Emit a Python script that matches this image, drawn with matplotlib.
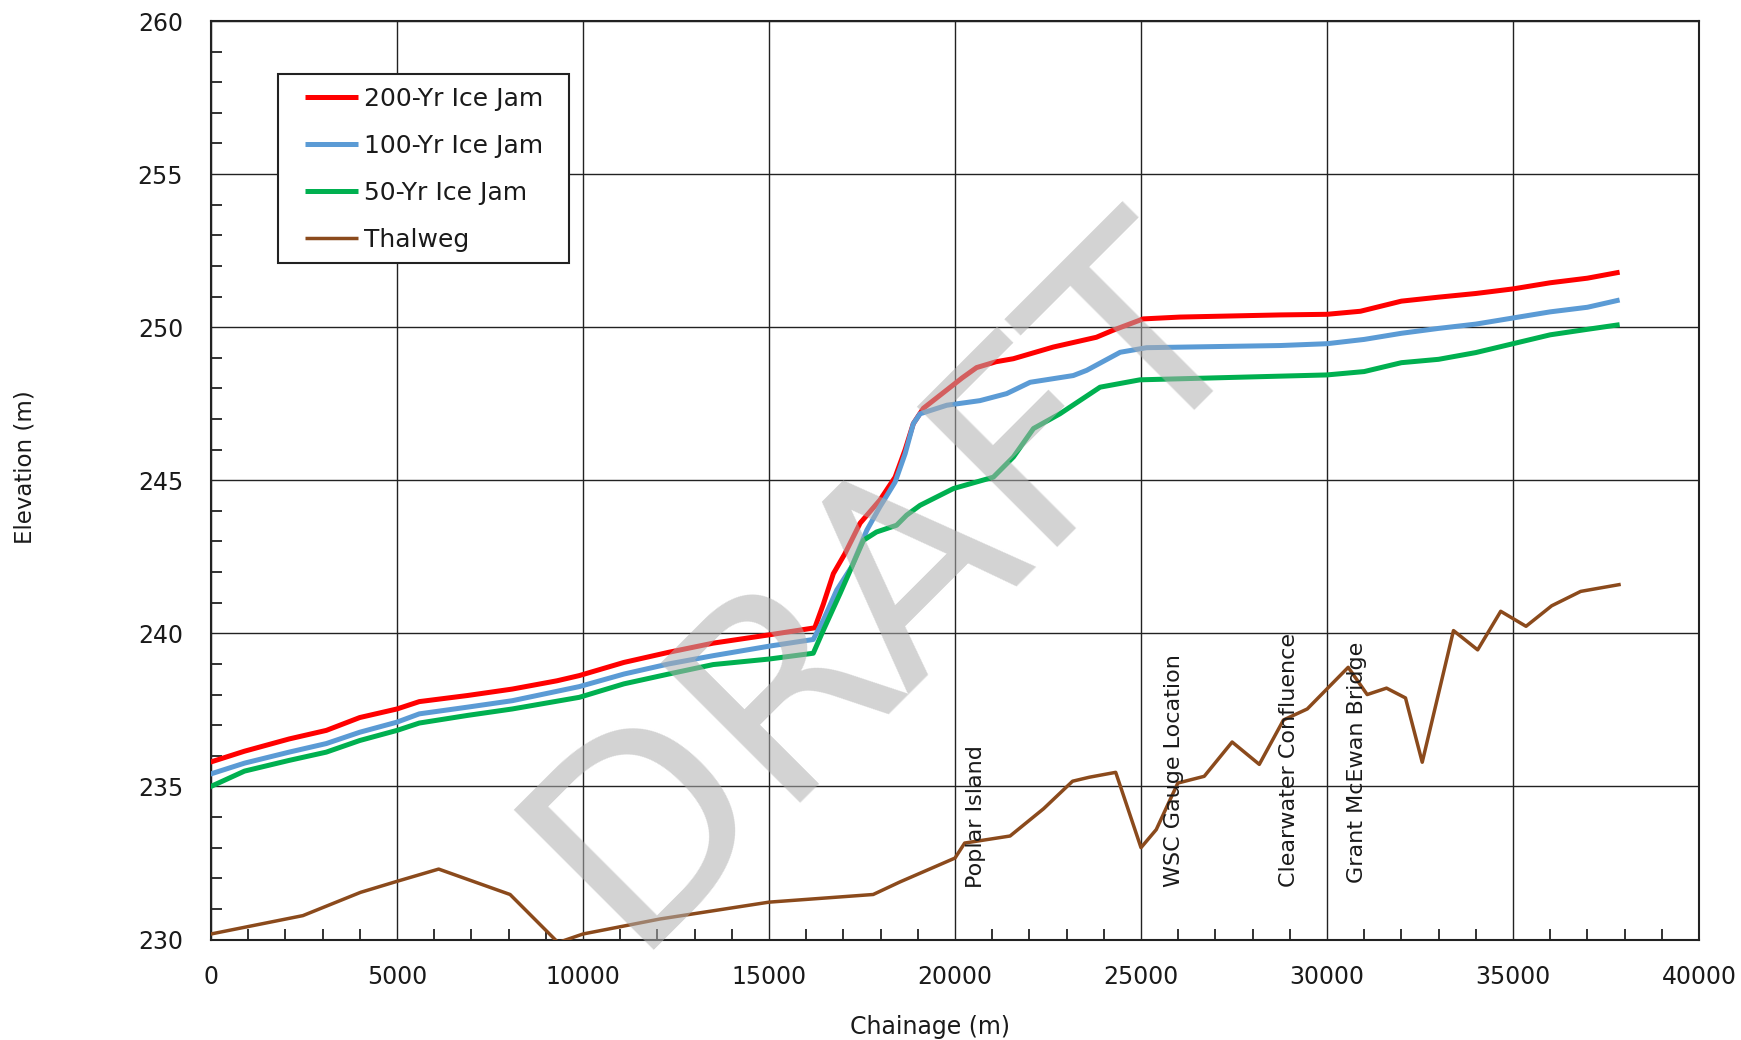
import matplotlib
matplotlib.use("Agg")
import matplotlib.pyplot as plt
from matplotlib.ticker import MultipleLocator
from matplotlib.patches import Rectangle

# ---------------- data ----------------
x_200 = [0, 900, 2100, 3100, 4000, 5000, 5600, 6900, 8100, 9300, 9900, 11100, 12300,
         13500, 15000, 16230, 16460, 16730, 17040, 17450, 17980, 18390, 18660, 18880,
         19150, 19780, 20200, 20580, 21100, 21570, 22640, 23800, 24250, 25060, 26050,
         28740, 30000, 30900, 32000, 33000, 34000, 35000, 36000, 37000, 37800]
y_200 = [235.8, 236.15, 236.55, 236.83, 237.25, 237.53, 237.77, 237.97, 238.18, 238.45,
         238.62, 239.05, 239.38, 239.68, 239.95, 240.18, 240.95, 241.95, 242.6, 243.6,
         244.35, 245.1, 246.0, 246.85, 247.35, 247.95, 248.35, 248.68, 248.87, 248.97,
         249.35, 249.67, 249.9, 250.27, 250.33, 250.4, 250.42, 250.52, 250.85, 250.98,
         251.1, 251.25, 251.45, 251.6, 251.78]

x_100 = [0, 900, 2100, 3100, 4000, 5000, 5600, 6900, 8100, 9900, 11100, 12300, 13500,
         15000, 16190, 16460, 16820, 17220, 17630, 17980, 18390, 18660, 18880, 19060,
         19780, 20670, 21390, 22020, 23180, 23540, 24440, 25150, 28740, 30000, 31000,
         32000, 33000, 34000, 35000, 36000, 37000, 37800]
y_100 = [235.41, 235.76, 236.12, 236.4, 236.77, 237.1, 237.37, 237.59, 237.8, 238.26,
         238.67, 239.0, 239.27, 239.58, 239.8, 240.43, 241.41, 242.17, 243.37, 244.13,
         244.94, 245.87, 246.85, 247.17, 247.45, 247.6, 247.83, 248.2, 248.42, 248.59,
         249.18, 249.33, 249.4, 249.46, 249.6, 249.8, 249.96, 250.1, 250.3, 250.5,
         250.65, 250.87]

x_50 = [0, 900, 2100, 3100, 4000, 5000, 5600, 6900, 8100, 9900, 11100, 12300, 13500,
        15000, 16190, 16460, 16910, 17540, 17890, 18430, 18700, 19060, 19960, 21030,
        21570, 22110, 22820, 23900, 24970, 28740, 30000, 31000, 32000, 33000, 34000,
        35000, 36000, 37000, 37800]
y_50 = [235.0, 235.5, 235.85, 236.12, 236.5, 236.83, 237.07, 237.32, 237.53, 237.91,
        238.35, 238.67, 238.98, 239.16, 239.35, 240.1, 241.3, 243.04, 243.31, 243.53,
        243.86, 244.18, 244.73, 245.1, 245.76, 246.69, 247.17, 248.04, 248.28, 248.4,
        248.44, 248.55, 248.84, 248.95, 249.17, 249.46, 249.75, 249.93, 250.07]

x_thal = [0, 2470, 4020, 5000, 6120, 8040, 9330, 10000, 12070, 15000, 17800, 18520,
          20000, 20260, 21480, 22380, 23160, 23610, 24320, 25000, 25410, 25990, 26700,
          27450, 28180, 28830, 29470, 30570, 31080, 31600, 32110, 32560, 33400, 34050,
          34670, 35350, 36040, 36820, 37850]
y_thal = [230.18, 230.78, 231.54, 231.9, 232.3, 231.47, 229.9, 230.18, 230.67, 231.22,
          231.47, 231.88, 232.66, 233.15, 233.38, 234.27, 235.17, 235.3, 235.46, 233.0,
          233.59, 235.11, 235.33, 236.45, 235.72, 237.17, 237.53, 238.89, 238.0, 238.21,
          237.89, 235.79, 240.09, 239.46, 240.72, 240.23, 240.9, 241.37, 241.59]

series_names = ["200-Yr Ice Jam", "100-Yr Ice Jam", "50-Yr Ice Jam", "Thalweg"]

note_labels = ["Poplar Island", "WSC Gauge Location", "Clearwater Confluence", "Grant McEwan Bridge"]
note_x = [20575, 25880, 28990, 30810]
note_y = [231.69, 231.70, 231.72, 231.85]

x_ticks = [0, 5000, 10000, 15000, 20000, 25000, 30000, 35000, 40000]
y_ticks = [230, 235, 240, 245, 250, 255, 260]

# ---------------- figure ----------------
W, H = 1741, 1040
fig = plt.figure(figsize=(W / 100, H / 100), dpi=100)
L, R, T, B = 211, 1699, 21, 939.5
ax = fig.add_axes([L / W, 1 - B / H, (R - L) / W, (B - T) / H])

FONT = "DejaVu Sans"
TXT = "#1a1a1a"
GRID = "#222222"

ax.plot(x_200, y_200, color="#FF0000", lw=3.6, solid_joinstyle="round", label=series_names[0], zorder=4)
ax.plot(x_100, y_100, color="#5B9BD5", lw=3.6, solid_joinstyle="round", label=series_names[1], zorder=4)
ax.plot(x_50, y_50, color="#00B050", lw=3.6, solid_joinstyle="round", label=series_names[2], zorder=4)
ax.plot(x_thal, y_thal, color="#8B4A1C", lw=2.5, solid_joinstyle="round", label=series_names[3], zorder=4)

ax.set_xlim(0, 40000)
ax.set_ylim(230, 260)
ax.set_xticks(x_ticks)
ax.set_yticks(y_ticks)
ax.set_xticklabels([str(v) for v in x_ticks], fontsize=17, family=FONT, color=TXT)
ax.set_yticklabels([str(v) for v in y_ticks], fontsize=17, family=FONT, color=TXT)
ax.xaxis.set_minor_locator(MultipleLocator(1000))
ax.yaxis.set_minor_locator(MultipleLocator(1))
ax.tick_params(which="major", length=0, pad=18)
ax.tick_params(axis="y", which="major", pad=20)
ax.tick_params(which="minor", direction="in", length=8, width=1.3, color=GRID)
ax.grid(True, which="major", color=GRID, lw=1.0, zorder=1)
ax.set_axisbelow(True)
for s in ax.spines.values():
    s.set_color(GRID)
    s.set_linewidth(1.5)

# annotations
for lab, xx, yy in zip(note_labels, note_x, note_y):
    ax.text(xx, yy, lab, rotation=90, ha="center", va="bottom", fontsize=16,
            family=FONT, color=TXT, zorder=5)

# axis labels
fig.text(930 / W, 1 - 1027 / H, "Chainage (m)", ha="center", va="center",
         fontsize=17, family=FONT, color=TXT)
fig.text(25 / W, 1 - 467 / H, "Elevation (m)", ha="center", va="center",
         rotation=90, fontsize=16.5, family=FONT, color=TXT)

# legend
leg = ax.legend(loc="upper left", bbox_to_anchor=(305 / W, 1 - 87 / H),
                bbox_transform=fig.transFigure, frameon=False, borderpad=0,
                borderaxespad=0, handlelength=2.1, handletextpad=0.24,
                labelspacing=0.92, prop={"family": FONT, "size": 18})
for t in leg.get_texts():
    t.set_color(TXT)
for h in leg.get_lines():
    h.set_solid_capstyle("butt")
leg.set_zorder(7)
box = Rectangle((278 / W, 1 - 263 / H), (569 - 278) / W, (263 - 74) / H,
                transform=fig.transFigure, facecolor="white", edgecolor=GRID,
                lw=1.5, zorder=6)
ax.add_artist(box)
box.set_clip_on(False)

# watermark
fig.text(888 / W, 1 - 583 / H, "DRAFT", rotation=45, ha="center", va="center",
         rotation_mode="anchor", fontsize=195, family=FONT, color="#AFAFAF",
         alpha=0.55, zorder=10)

fig.savefig("out.png", dpi=100)
